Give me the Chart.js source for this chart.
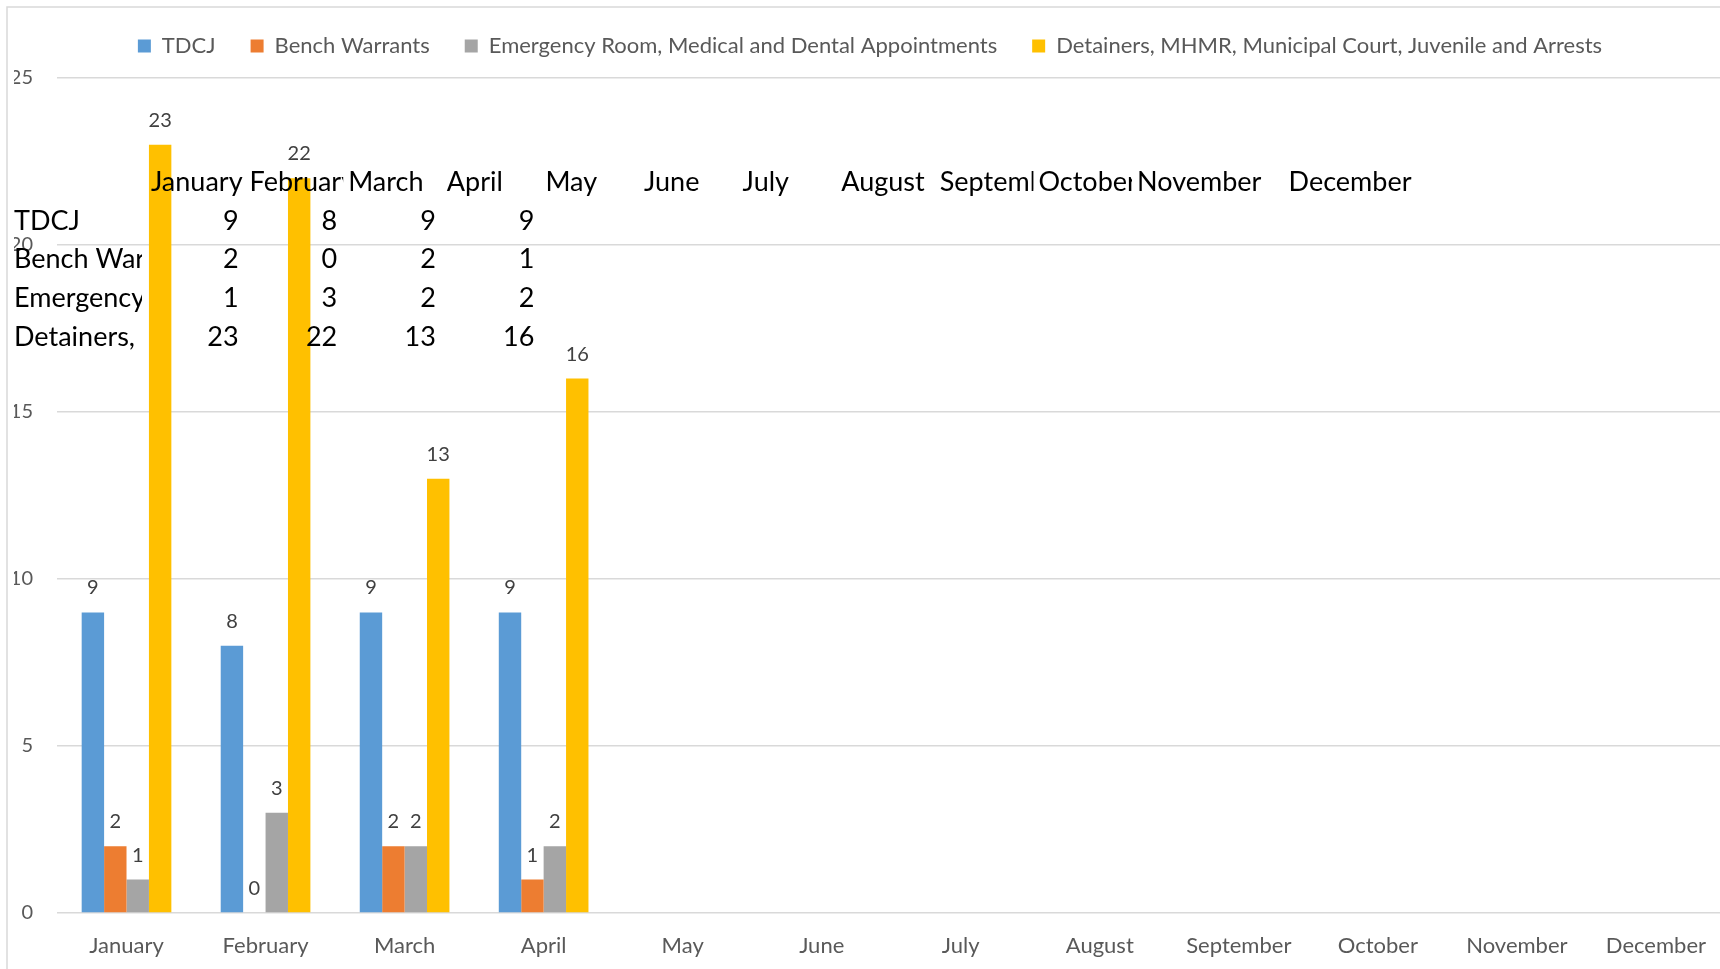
<!DOCTYPE html>
<html>
<head>
<meta charset="utf-8">
<title>Monthly transports</title>
<script src="https://cdn.jsdelivr.net/npm/chart.js@4.4.0/dist/chart.umd.min.js"></script>
<style>
  html, body { margin: 0; padding: 0; background: #fff; overflow: hidden; }
  #wrap { position: relative; width: 1720px; height: 969px; overflow: hidden; }
  #chart { position: absolute; left: 0; top: 0; }
</style>
</head>
<body>
<div id="wrap"><canvas id="chart" width="1726" height="969"></canvas></div>
<script>
// Data (May - December have no values yet)
const months = ['January', 'February', 'March', 'April', 'May', 'June',
                'July', 'August', 'September', 'October', 'November', 'December'];
const seriesNames = ['TDCJ', 'Bench Warrants',
                     'Emergency Room, Medical and Dental Appointments',
                     'Detainers, MHMR, Municipal Court, Juvenile and Arrests'];
const tdcj          = [9, 8, 9, 9, null, null, null, null, null, null, null, null];
const benchWarrants = [2, 0, 2, 1, null, null, null, null, null, null, null, null];
const emergency     = [1, 3, 2, 2, null, null, null, null, null, null, null, null];
const detainers     = [23, 22, 13, 16, null, null, null, null, null, null, null, null];
const yTicks = [0, 5, 10, 15, 20, 25];
const seriesColors = ['#5B9BD5', '#ED7D31', '#A5A5A5', '#FFC000'];

const FONT = 'Lato, "Open Sans", sans-serif';

// white page + the thin frame of the office chart
const framePlugin = {
    id: 'frame',
    beforeDraw(chart) {
        const ctx = chart.ctx;
        ctx.save();
        ctx.fillStyle = '#fff';
        ctx.fillRect(0, 0, chart.width, chart.height);
        ctx.strokeStyle = '#D9D9D9';
        ctx.lineWidth = 1.5;
        ctx.beginPath();
        ctx.moveTo(7, chart.height);
        ctx.lineTo(7, 7);
        ctx.lineTo(chart.width, 7);
        ctx.stroke();
        ctx.restore();
    }
};

// numbers above each bar
const valueLabels = {
    id: 'valueLabels',
    afterDatasetsDraw(chart) {
        const ctx = chart.ctx;
        ctx.save();
        ctx.font = '20px ' + FONT;
        ctx.fillStyle = '#404040';
        ctx.textAlign = 'center';
        ctx.textBaseline = 'alphabetic';
        chart.data.datasets.forEach((ds, i) => {
            chart.getDatasetMeta(i).data.forEach((bar, j) => {
                const v = ds.data[j];
                if (v === null || v === undefined) return;
                ctx.fillText(String(v), bar.x, bar.y - 18);
            });
        });
        ctx.restore();
    }
};

// the pasted data table that sits on top of the chart
const pastedTable = {
    id: 'pastedTable',
    afterDraw(chart) {
        const ctx = chart.ctx;
        const colLeft = 147, colW = 98.6, rowH = 38.7, headY = 191;
        const headX = chart.data.labels.map((m, i) => colLeft + i * colW + 4 + (i === 11 ? 53 : 0));
        ctx.save();
        ctx.font = '27px ' + FONT;
        ctx.fillStyle = '#000';
        ctx.textBaseline = 'alphabetic';

        // header row, each cell clipped where the next one starts
        chart.data.labels.forEach((m, i) => {
            const right = i < headX.length - 1 ? headX[i + 1] - 5 : chart.width;
            ctx.save();
            ctx.beginPath();
            ctx.rect(headX[i] - 4, headY - 34, right - headX[i] + 4, 46);
            ctx.clip();
            ctx.textAlign = 'left';
            ctx.fillText(m, headX[i], headY);
            ctx.restore();
        });

        chart.data.datasets.forEach((ds, r) => {
            const y = headY + (r + 1) * rowH;
            ctx.save();
            ctx.beginPath();
            ctx.rect(10, y - 34, 132, 46);
            ctx.clip();
            ctx.textAlign = 'left';
            ctx.fillText(ds.label, 14, y);
            ctx.restore();
            ctx.textAlign = 'right';
            ds.data.forEach((v, i) => {
                if (v === null || v === undefined) return;
                ctx.fillText(String(v), colLeft + (i + 1) * colW - 7, y);
            });
        });
        ctx.restore();
    }
};

const seriesData = [tdcj, benchWarrants, emergency, detainers];

new Chart(document.getElementById('chart'), {
    type: 'bar',
    data: {
        labels: months,
        datasets: seriesNames.map((name, i) => ({
            label: name,
            data: seriesData[i],
            backgroundColor: seriesColors[i],
            borderWidth: 0,
            categoryPercentage: 0.645,
            barPercentage: 1.0
        }))
    },
    options: {
        responsive: false,
        animation: false,
        devicePixelRatio: 1,
        layout: { padding: { left: 14, right: 0, top: 0, bottom: 0 } },
        plugins: {
            legend: {
                position: 'top',
                labels: {
                    boxWidth: 13,
                    boxHeight: 13,
                    padding: 35,
                    color: '#595959',
                    font: { family: FONT, size: 22 }
                }
            },
            subtitle: {
                display: true,
                text: '',
                weight: 500,
                padding: 0,
                font: { size: 10, lineHeight: 1.1 }
            },
            tooltip: { enabled: false }
        },
        scales: {
            x: {
                grid: { display: false, drawTicks: false },
                border: { display: false },
                ticks: {
                    color: '#595959',
                    font: { family: FONT, size: 22 },
                    padding: 20,
                    maxRotation: 0,
                    autoSkip: false
                },
                afterFit(scale) { scale.height = 56; }
            },
            y: {
                min: yTicks[0],
                max: yTicks[yTicks.length - 1],
                afterBuildTicks(scale) { scale.ticks = yTicks.map(v => ({ value: v })); },
                grid: { color: '#D9D9D9', lineWidth: 1.5, drawTicks: false },
                border: { display: false },
                ticks: {
                    color: '#595959',
                    font: { family: FONT, size: 20 },
                    padding: 24
                },
                afterFit(scale) { scale.width = 43; }
            }
        }
    },
    plugins: [framePlugin, valueLabels, pastedTable]
});
</script>
</body>
</html>
